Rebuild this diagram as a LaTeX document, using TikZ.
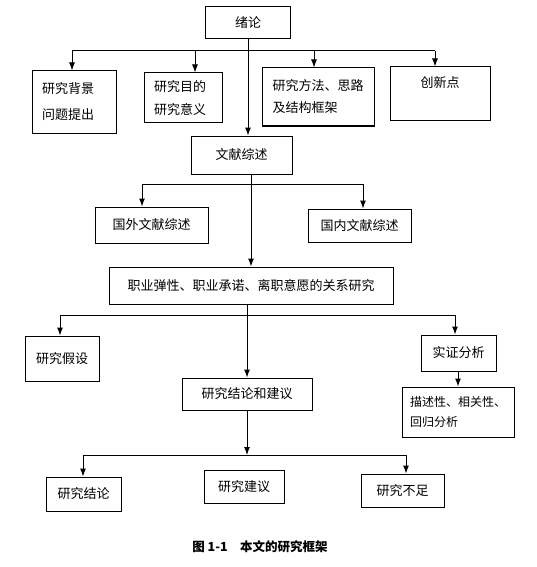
\documentclass[tikz,border=0pt]{standalone}
\usepackage{fontspec}
\setmainfont{Noto Sans CJK SC}
\usetikzlibrary{arrows.meta}

\tikzset{
  box/.style={draw, line width=1pt, inner sep=0pt, font=\fontsize{13}{16}\selectfont},
  twoline/.style={box, align=left, inner xsep=10pt},
}

\begin{document}
\begin{tikzpicture}[x=1pt, y=-1pt, line width=1pt, >={Latex[length=8pt,width=6pt]}]
  \useasboundingbox (0,0) rectangle (536,567);
  %nodes
  \node[box, minimum width=85, minimum height=32] (xulun) at (248,23) {绪论};
  \node[twoline, text width=64, minimum width=84, minimum height=62, font=\fontsize{13}{26}\selectfont] (beijing) at (74,102) {研究背景\\问题提出};
  \node[twoline, text width=58, minimum width=78, minimum height=50, font=\fontsize{13}{23}\selectfont] (mudi) at (183,98) {研究目的\\研究意义};
  \node[twoline, text width=92, minimum width=111, minimum height=58, font=\fontsize{13}{22}\selectfont] (fangfa) at (318.5,97) {研究方法、思路\\及结构框架};
  \node[box, minimum width=100, text height=17pt, text depth=29pt, inner ysep=4pt] (chuangxin) at (440,94) {创新点};
  \node[box, minimum width=101, minimum height=38] (wenxian) at (241.5,155) {文献综述};
  \node[box, minimum width=113, minimum height=36] (guowai) at (151.5,225) {国外文献综述};
  \node[box, minimum width=103, minimum height=33] (guonei) at (359.5,225.5) {国内文献综述};
  \node[box, minimum width=284, minimum height=37] (guanxi) at (251,285.5) {职业弹性、职业承诺、离职意愿的关系研究};
  \node[box, minimum width=74, minimum height=45] (jiashe) at (62,358.5) {研究假设};
  \node[box, minimum width=75, minimum height=36] (shizheng) at (458.5,353) {实证分析};
  \node[twoline, text width=96, inner xsep=8pt, minimum width=112, minimum height=50, font=\fontsize{12}{20}\selectfont] (miaoshu) at (458,412) {描述性、相关性、\\回归分析};
  \node[box, minimum width=130, minimum height=32] (jielunjianyi) at (247,394) {研究结论和建议};
  \node[box, minimum width=75, minimum height=34] (jielun) at (83.5,494) {研究结论};
  \node[box, minimum width=80, minimum height=33] (jianyi) at (244,486.5) {研究建议};
  \node[box, minimum width=83, minimum height=33] (buzu) at (402.5,490.5) {研究不足};
  \node[font=\bfseries\fontsize{12.5}{15}\selectfont] (caption) at (260,547) {图 1-1\quad 本文的研究框架};
  % bus lines
  \coordinate (b4) at (247,455);
  \draw (72,51) -- (435,51);
  \draw (142,184) -- (363,184);
  \draw (60,315) -- (455,315);
  \draw (83,455) -- (406,455);
  % arrows between nodes
  \draw[->] (xulun.south) -- (xulun.south |- wenxian.north);
  \draw[->] (guanxi.north |- wenxian.south) -- (guanxi.north);
  \draw[->] (jielunjianyi.north |- guanxi.south) -- (jielunjianyi.north);
  \draw[->] (jielunjianyi.south) -- (b4);
  \draw[->] (shizheng.south -| 458,0) -- (miaoshu.north -| 458,0);
  \foreach \n/\x in {beijing/72, mudi/195, fangfa/314, chuangxin/435}{
    \coordinate (t) at (\x,51);
    \draw[->] (t) -- (t |- \n.north);
  }
  \foreach \n/\x in {guowai/142, guonei/363}{
    \coordinate (t) at (\x,184);
    \draw[->] (t) -- (t |- \n.north);
  }
  \foreach \n/\x in {jiashe/60, shizheng/455}{
    \coordinate (t) at (\x,315);
    \draw[->] (t) -- (t |- \n.north);
  }
  \foreach \n/\x in {jielun/83, buzu/406}{
    \coordinate (t) at (\x,455);
    \draw[->] (t) -- (t |- \n.north);
  }
\end{tikzpicture}
\end{document}
